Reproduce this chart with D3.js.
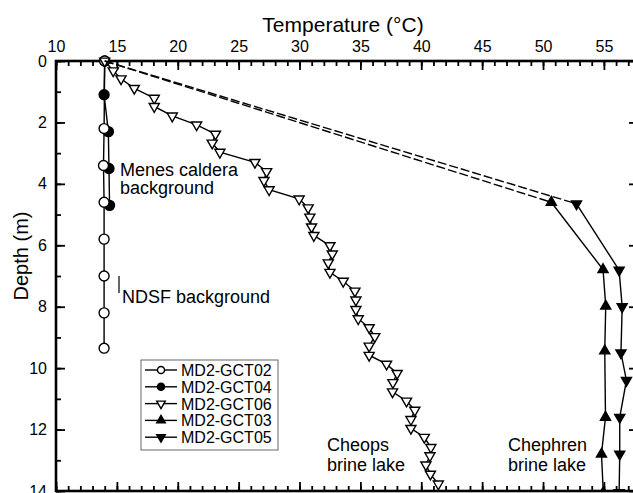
<!DOCTYPE html>
<html>
<head>
<meta charset="utf-8">
<script src="https://cdnjs.cloudflare.com/ajax/libs/d3/7.8.5/d3.min.js"></script>
<style>
  body { margin: 0; background: #fff; }
  svg text { font-family: "Liberation Sans", Arial, sans-serif; fill: #000; }
</style>
</head>
<body>
<div id="chart"></div>
<script>
// depth (m) / temperature (°C) per core
const gct02Depth = [0, 2.2, 3.4, 4.6, 5.8, 7.0, 8.2, 9.35];
const gct02Temp = [14.0, 13.95, 13.9, 13.95, 13.95, 13.95, 13.95, 13.95];

const gct04Depth = [0, 1.1, 2.3, 3.5, 4.7];
const gct04Temp = [14.0, 13.95, 14.3, 14.35, 14.4];

const gct06Depth = [0, 0.32, 0.58, 0.89, 1.21, 1.48, 1.79, 2.08, 2.38, 2.67, 2.97, 3.3, 3.6, 3.89, 4.19,
    4.49, 4.78, 5.08, 5.4, 5.68, 6.01, 6.28, 6.57, 6.88, 7.17, 7.49, 7.78, 8.09, 8.39, 8.68, 8.97, 9.28,
    9.58, 9.87, 10.17, 10.47, 10.77, 11.07, 11.37, 11.67, 11.96, 12.25, 12.58, 12.85, 13.15, 13.45, 13.77];
const gct06Temp = [14.0, 14.7, 15.34, 16.43, 18.07, 18.07, 19.55, 21.55, 23.1, 22.83, 23.46, 26.34, 27.3, 27.08, 27.5,
    29.97, 30.71, 30.85, 30.99, 31.18, 32.5, 32.69, 32.36, 32.5, 33.59, 34.55, 34.63, 34.63, 34.82, 35.72, 36.18, 35.72,
    35.72, 37.15, 38.02, 37.67, 37.64, 38.79, 39.47, 39.15, 39.15, 40.25, 40.79, 40.71, 40.38, 40.75, 41.4];

const gct03Depth = [0, 4.6, 6.79, 7.98, 9.44, 11.6, 12.8, 14.05];
const gct03Temp = [14.0, 50.68, 54.93, 55.15, 55.07, 55.13, 54.8, 54.95];

const gct05Depth = [0, 4.65, 6.81, 8.0, 9.5, 10.4, 11.6, 12.8, 14.05];
const gct05Temp = [14.0, 52.75, 56.25, 56.5, 56.4, 56.85, 56.3, 56.3, 56.25];

const tempTicks = [10, 15, 20, 25, 30, 35, 40, 45, 50, 55];
const depthTicks = [0, 2, 4, 6, 8, 10, 12, 14];

const zip = (t, d) => t.map((v, i) => ({ t: v, d: d[i] }));

const series = [
    { name: "MD2-GCT04", data: zip(gct04Temp, gct04Depth), shape: "circle", fill: "#000", dashedStart: false },
    { name: "MD2-GCT02", data: zip(gct02Temp, gct02Depth), shape: "circle", fill: "#fff", dashedStart: false },
    { name: "MD2-GCT06", data: zip(gct06Temp, gct06Depth), shape: "down", fill: "#fff", dashedStart: false },
    { name: "MD2-GCT03", data: zip(gct03Temp, gct03Depth), shape: "up", fill: "#000", dashedStart: true },
    { name: "MD2-GCT05", data: zip(gct05Temp, gct05Depth), shape: "down", fill: "#000", dashedStart: true }
];
const legendOrder = ["MD2-GCT02", "MD2-GCT04", "MD2-GCT06", "MD2-GCT03", "MD2-GCT05"];

const width = 633, height = 493;
const x = d3.scaleLinear().domain([10, 57.8]).range([56, 638]);
const y = d3.scaleLinear().domain([0, 14]).range([61, 491]);

const svg = d3.select("#chart").append("svg")
    .attr("width", width)
    .attr("height", height);

svg.append("defs").append("clipPath").attr("id", "clip")
    .append("rect").attr("x", 0).attr("y", 0).attr("width", width).attr("height", y(14));

const symbolPath = (shape, big) => {
    if (shape === "circle") return d3.symbol(d3.symbolCircle, big ? 78 : 40)();
    return d3.symbol(d3.symbolTriangle, big ? 44 : 32)();
};
const rot = shape => shape === "down" ? " rotate(180)" : "";

// axes (ticks point inward)
const styleAxis = g => {
    g.select(".domain").remove();
    g.selectAll("line").attr("stroke", "#000").attr("stroke-width", 1.8);
    g.selectAll("text").style("font-size", "16px").style("font-family", "Liberation Sans, Arial, sans-serif");
};

svg.append("g").attr("transform", `translate(0,${y(0)})`)
    .call(d3.axisTop(x).tickValues(d3.range(10, 58, 1)).tickSize(-5).tickFormat(""))
    .call(styleAxis);
svg.append("g").attr("transform", `translate(0,${y(0)})`)
    .call(d3.axisTop(x).tickValues(tempTicks).tickSize(-9).tickPadding(9).tickFormat(d3.format("d")))
    .call(styleAxis);

svg.append("g").attr("transform", `translate(0,${y(14)})`)
    .call(d3.axisBottom(x).tickValues(d3.range(10, 58, 1)).tickSize(-5).tickFormat(""))
    .call(styleAxis);
svg.append("g").attr("transform", `translate(0,${y(14)})`)
    .call(d3.axisBottom(x).tickValues(tempTicks).tickSize(-9).tickFormat(""))
    .call(styleAxis);

svg.append("g").attr("transform", `translate(${x(10)},0)`)
    .call(d3.axisLeft(y).tickValues(d3.range(0, 15, 1)).tickSize(-5).tickFormat(""))
    .call(styleAxis);
svg.append("g").attr("transform", `translate(${x(10)},0)`)
    .call(d3.axisLeft(y).tickValues(depthTicks).tickSize(-9).tickPadding(9).tickFormat(d3.format("d")))
    .call(styleAxis);

svg.append("g").attr("transform", `translate(${x(57.8)},0)`)
    .call(d3.axisRight(y).tickValues(d3.range(0, 15, 1)).tickSize(-5).tickFormat(""))
    .call(styleAxis);
svg.append("g").attr("transform", `translate(${x(57.8)},0)`)
    .call(d3.axisRight(y).tickValues(depthTicks).tickSize(-9).tickFormat(""))
    .call(styleAxis);

svg.append("rect")
    .attr("x", x(10)).attr("y", y(0))
    .attr("width", x(57.8) - x(10)).attr("height", y(14) - y(0))
    .attr("fill", "none").attr("stroke", "#000").attr("stroke-width", 2.6);

// titles
svg.append("text")
    .attr("x", 343).attr("y", 32)
    .style("text-anchor", "middle").style("font-size", "21px")
    .text("Temperature (°C)");

svg.append("text")
    .attr("transform", "translate(28,256) rotate(-90)")
    .style("text-anchor", "middle").style("font-size", "20px")
    .text("Depth (m)");

// series
const plot = svg.append("g").attr("clip-path", "url(#clip)");
const line = d3.line().x(d => x(d.t)).y(d => y(d.d));

series.forEach(s => {
    const pts = s.dashedStart ? s.data.slice(1) : s.data;
    if (s.dashedStart) {
        plot.append("path")
            .attr("d", line(s.data.slice(0, 2)))
            .attr("fill", "none").attr("stroke", "#000")
            .attr("stroke-width", 1.4).attr("stroke-dasharray", "9,3");
    }
    plot.append("path")
        .attr("d", line(pts))
        .attr("fill", "none").attr("stroke", "#000").attr("stroke-width", 1.4);
    plot.selectAll(null)
        .data(pts)
        .enter()
        .append("path")
        .attr("d", symbolPath(s.shape, true))
        .attr("transform", d => `translate(${x(d.t)},${y(d.d)})${rot(s.shape)}`)
        .attr("fill", s.fill)
        .attr("stroke", "#000")
        .attr("stroke-width", 1.4);
});

// annotations
const notes = [
    { lines: ["Menes caldera", "background"], x: 120, y: 176, gap: 18 },
    { lines: ["NDSF background"], x: 122, y: 303, gap: 18 },
    { lines: ["Cheops", "brine lake"], x: 327, y: 451, gap: 20 },
    { lines: ["Chephren", "brine lake"], x: 508, y: 451, gap: 20 }
];
notes.forEach(n => {
    const t = svg.append("text").attr("x", n.x).attr("y", n.y).style("font-size", "18px");
    n.lines.forEach((l, i) => t.append("tspan").attr("x", n.x).attr("dy", i === 0 ? 0 : n.gap).text(l));
});
svg.append("line")
    .attr("x1", 119).attr("x2", 119).attr("y1", 276).attr("y2", 293)
    .attr("stroke", "#000").attr("stroke-width", 1.2);

// legend
const legend = svg.append("g").attr("transform", "translate(141,360)");
legend.append("rect")
    .attr("width", 137).attr("height", 90)
    .attr("fill", "#fff").attr("stroke", "#666").attr("stroke-width", 1);

legendOrder.forEach((name, i) => {
    const s = series.find(e => e.name === name);
    const row = legend.append("g").attr("transform", `translate(0,${10 + i * 16.8})`);
    row.append("line").attr("x1", 4).attr("x2", 36).attr("stroke", "#000").attr("stroke-width", 1.4);
    row.append("path")
        .attr("d", symbolPath(s.shape, false))
        .attr("transform", `translate(20,0)${rot(s.shape)}`)
        .attr("fill", s.fill).attr("stroke", "#000").attr("stroke-width", 1.4);
    row.append("text")
        .attr("x", 40).attr("y", 6)
        .style("font-size", "16px")
        .text(name);
});
</script>
</body>
</html>
